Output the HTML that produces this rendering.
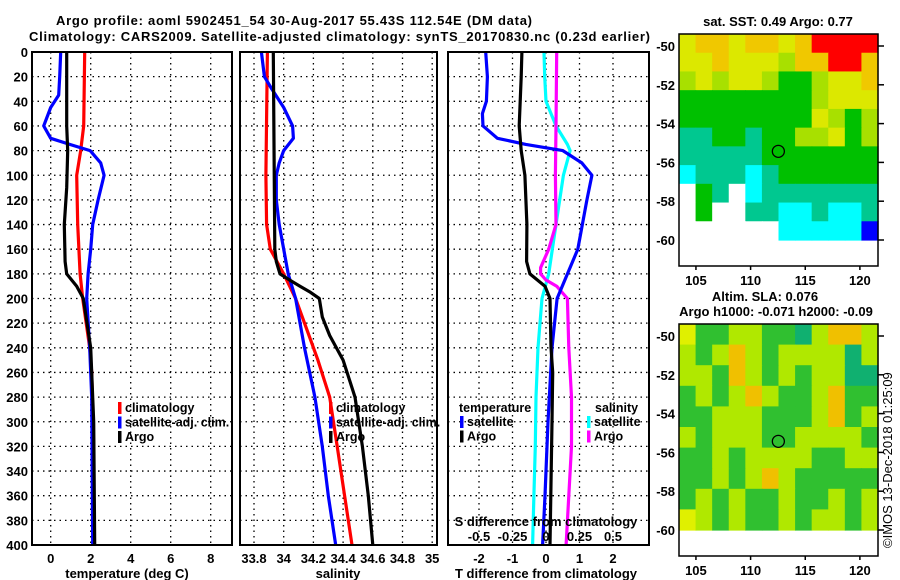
<!DOCTYPE html>
<html><head><meta charset="utf-8"><style>
html,body{margin:0;padding:0;background:#fff;}
svg{display:block;font-family:"Liberation Sans",Arial,sans-serif;}
.b{font-weight:bold;font-size:13px;}
</style></head><body>
<svg id="fig" width="900" height="580" viewBox="0 0 900 580" xmlns="http://www.w3.org/2000/svg">
<text class="b" x="56" y="25" textLength="476" font-size="14">Argo profile: aoml 5902451_54 30-Aug-2017 55.43S 112.54E (DM data)</text>
<text class="b" x="29" y="41" textLength="621" font-size="14">Climatology: CARS2009. Satellite-adjusted climatology: synTS_20170830.nc (0.23d earlier)</text>
<g id="g"></g>
</svg>
<script>
// ---- data ----
const depthTicks=[0,20,40,60,80,100,120,140,160,180,200,220,240,260,280,300,320,340,360,380,400];
const tTicks=[0,2,4,6,8];
const sTicks=[33.8,34,34.2,34.4,34.6,34.8,35];
const sTickLabels=["33.8","34","34.2","34.4","34.6","34.8","35"];
const dTTicks=[-2,-1,0,1,2];
const dSTickLabels=["-0.5","-0.25","0","0.25","0.5"];
const dSTicks=[-0.5,-0.25,0,0.25,0.5];

const argoTDepth=[0,60,80,110,140,170,180,190,200,240,300,400];
const argoT=[0.8,0.8,0.85,0.8,0.68,0.72,0.8,1.3,1.63,2.0,2.15,2.2];
const climTDepth=[0,60,80,100,140,180,200,240,260,320,400];
const climT=[1.7,1.65,1.5,1.3,1.35,1.47,1.6,1.95,2.05,2.15,2.15];
const satTDepth=[0,20,35,45,60,70,75,80,90,100,120,140,160,180,200,240,280,400];
const satT=[0.5,0.45,0.4,0,-0.35,0,0.95,1.97,2.5,2.67,2.37,2.1,2.0,1.87,1.8,1.95,2.05,2.1];

const argoSDepth=[0,160,170,180,185,190,195,200,215,230,250,280,320,360,400];
const argoS=[33.93,33.94,33.95,33.975,34.04,34.11,34.18,34.24,34.26,34.31,34.4,34.48,34.53,34.57,34.6];
const climSDepth=[0,100,140,160,180,200,220,250,280,320,360,400];
const climS=[33.89,33.88,33.885,33.91,34.0,34.08,34.14,34.23,34.31,34.36,34.41,34.46];
const satSDepth=[0,20,30,45,60,70,80,90,100,120,140,160,180,200,240,280,320,360,400];
const satS=[33.85,33.87,33.92,34.0,34.06,34.065,34.0,33.97,33.95,33.95,33.97,34.0,34.03,34.08,34.14,34.21,34.26,34.3,34.35];

const dTsatDepth=[0,20,40,50,60,70,75,80,90,100,120,160,200,240,300,360,400];
const dTsat=[-1.8,-1.75,-1.78,-1.9,-1.88,-1.45,-0.6,0.5,1.07,1.37,1.22,0.95,0.33,0.18,0.06,-0.03,-0.1];
const dTargoDepth=[0,20,60,80,100,140,170,180,190,200,240,260,300,400];
const dTargo=[-0.72,-0.74,-0.8,-0.74,-0.63,-0.57,-0.58,-0.48,-0.03,0.12,0.15,0.2,0.18,0.12];
const dSsatDepth=[0,20,40,60,75,80,100,140,180,200,240,280,320,360,400];
const dSsat=[-0.015,-0.01,0,0.075,0.16,0.18,0.13,0.075,0.02,-0.03,-0.06,-0.075,-0.08,-0.09,-0.1];
const dSargoDepth=[0,60,100,140,160,175,180,185,190,200,240,280,320,360,400];
const dSargo=[0.08,0.075,0.07,0.075,0.02,-0.04,-0.04,0.0,0.08,0.16,0.17,0.19,0.19,0.17,0.15];

const mapLonTicks=[105,110,115,120];
const mapLatTicks=[-50,-52,-54,-56,-58,-60];
const sstGrid=["YOOYOOYORRRR","YYOYYYLOORRO","LYLYYLGGLYYO","GGGGGGGGLYYY","GGGGGGGGYLGL","TTGGTGGLLYGL","TTTTTGGGGGGG","CTTTCTGGGGGG","WGTWCTTTTTTT","WGWWTTCCTCCT","WWWWWWCCCCCB"];
const slaGrid=["YGGLLGGDLOOL","LGLOLGLLLLDL","LLGOLGLGLLDD","GLGLOLGGLOGG","GGLLLGGGLOGL","LGLLLGGLLLLG","GGLGLLLLGGLL","GGLGLOLGGGGG","GLGLGGLGGLGL","YLGLGGLGLLGL"];
const profLon=112.54, profLat=-55.43;

// ---- helpers ----
const NS="http://www.w3.org/2000/svg";
const G=document.getElementById('g');
function mk(tag,attrs,parent){const e=document.createElementNS(NS,tag);for(const k in attrs)e.setAttribute(k,attrs[k]);(parent||G).appendChild(e);return e;}
const yD=d=>52+d*(493/400);
const xT=t=>50.7+20*t;
const xS=s=>254+148.5*(s-33.8);
const xDT=t=>546+33.5*t;
const xDS=s=>546+134*s;

function panel(name,x0,x1){
  const r=mk('rect',{x:x0,y:52,width:x1-x0,height:493,fill:'#fff',stroke:'none'});
  
  
  depthTicks.forEach(d=>{
    const l=mk('line',{x1:x0,x2:x1,y1:yD(d),y2:yD(d),stroke:'#000','stroke-width':1.3,'stroke-dasharray':'1.5,4'});
    
    
  });
}
function vgrid(x,name){
  const l=mk('line',{x1:x,x2:x,y1:52,y2:545,stroke:'#000','stroke-width':1.3,'stroke-dasharray':'1.5,4'});
  
  
}
function frame(name,x0,x1){
  const r=mk('rect',{x:x0,y:52,width:x1-x0,height:493,fill:'none',stroke:'#000','stroke-width':2});
  
  
}
function series(name,ds,vs,xf,color){
  const pts=ds.map((d,i)=>xf(vs[i]).toFixed(1)+','+yD(d).toFixed(1)).join(' ');
  const p=mk('polyline',{points:pts,fill:'none',stroke:color,'stroke-width':3.2,'stroke-linejoin':'round'});
  
  
}
function txt(s,x,y,name,opts){
  const t=mk('text',Object.assign({x:x,y:y,'font-size':13,'font-weight':'bold'},opts||{}));
  t.textContent=s;
  
  
  return t;
}
function legend(items,x,y0,name){
  items.forEach((it,i)=>{
    const y=y0+i*14.5;
    const r=mk('rect',{x:x,y:y-10,width:3.5,height:12,fill:it[1]});
    
    
    txt(it[0],x+7,y,name+'-label',{'font-size':12.5});
  });
}

// panel 1
panel('temperature-panel',32,232);
tTicks.forEach(t=>vgrid(xT(t),'t-gridline'));
series('climatology-temperature-line',climTDepth,climT,xT,'#ff0000');
series('satellite-adj-temperature-line',satTDepth,satT,xT,'#0000ff');
series('argo-temperature-line',argoTDepth,argoT,xT,'#000000');
frame('temperature-panel',32,232);
depthTicks.forEach(d=>txt(String(d),28,yD(d)+5,'depth-tick-label',{'text-anchor':'end'}));
tTicks.forEach(t=>txt(String(t),xT(t),563,'temperature-tick-label',{'text-anchor':'middle'}));
txt('temperature (deg C)',127,578,'temperature-axis-title',{'text-anchor':'middle'});
legend([['climatology','#ff0000'],['satellite-adj. clim.','#0000ff'],['Argo','#000000']],118,412,'temp-legend');

// panel 2
panel('salinity-panel',240,437);
sTicks.forEach(s=>vgrid(xS(s),'s-gridline'));
series('climatology-salinity-line',climSDepth,climS,xS,'#ff0000');
series('satellite-adj-salinity-line',satSDepth,satS,xS,'#0000ff');
series('argo-salinity-line',argoSDepth,argoS,xS,'#000000');
frame('salinity-panel',240,437);
sTicks.forEach((s,i)=>txt(sTickLabels[i],xS(s),563,'salinity-tick-label',{'text-anchor':'middle'}));
txt('salinity',338,578,'salinity-axis-title',{'text-anchor':'middle'});
legend([['climatology','#ff0000'],['satellite-adj. clim.','#0000ff'],['Argo','#000000']],329,412,'sal-legend');

// panel 3
panel('difference-panel',448,649);
dTTicks.forEach(t=>vgrid(xDT(t),'dt-gridline'));
series('salinity-satellite-diff-line',dSsatDepth,dSsat,xDS,'#00ffff');
series('salinity-argo-diff-line',dSargoDepth,dSargo,xDS,'#ff00ff');
series('temperature-satellite-diff-line',dTsatDepth,dTsat,xDT,'#0000ff');
series('temperature-argo-diff-line',dTargoDepth,dTargo,xDT,'#000000');
frame('difference-panel',448,649);
dTTicks.forEach(t=>txt(String(t),xDT(t),563,'dt-tick-label',{'text-anchor':'middle'}));
txt('T difference from climatology',546,578,'dt-axis-title',{'text-anchor':'middle'});
txt('S difference from climatology',546,526,'ds-axis-title',{'text-anchor':'middle'});
dSTicks.forEach((s,i)=>txt(dSTickLabels[i],xDS(s),541,'ds-tick-label',{'text-anchor':'middle'}));
txt('temperature',459,412,'diff-legend-temperature-heading',{'font-size':12.5});
legend([['satellite','#0000ff'],['Argo','#000000']],460,426,'diff-temp-legend');
txt('salinity',595,412,'diff-legend-salinity-heading',{'font-size':12.5});
legend([['satellite','#00ffff'],['Argo','#ff00ff']],587,426,'diff-sal-legend');

// maps
const colors={R:'#ff0000',O:'#f0c800',Y:'#dce800',L:'#a8e000',G:'#00c000',D:'#10b060',T:'#00c890',C:'#00ffff',B:'#0000ff',W:'#ffffff'};
const slaColors={Y:'#e0f000',L:'#b0e800',G:'#30c030',D:'#10b070',O:'#f0c000'};
const mx=lon=>679+(lon-103.45)*10.93;
function map(name,top,grid,cmap){
  const bottom=top+232;
  const yL=lat=>top+12+(-50-lat)*19.4;
  const dataTop=top, dataBot=yL(-60);
  const rows=grid.length, cols=grid[0].length;
  const rh=(dataBot-dataTop)/rows, cw=(878-679)/cols;
  const bg=mk('rect',{x:679,y:top,width:199,height:232,fill:'#fff'});
  
  
  grid.forEach((row,r)=>{
    for(let c=0;c<cols;c++){
      const cell=mk('rect',{x:(679+c*cw).toFixed(2),y:(dataTop+r*rh).toFixed(2),width:(cw+0.6).toFixed(2),height:(rh+0.6).toFixed(2),fill:cmap[row[c]]});
      
      
    }
  });
  const fr=mk('rect',{x:679,y:top,width:199,height:232,fill:'none',stroke:'#000','stroke-width':1.5});
  
  
  mapLatTicks.forEach(lat=>{
    const y=yL(lat);
    const tk=mk('line',{x1:878,x2:884,y1:y,y2:y,stroke:'#000','stroke-width':1.5});
    
    
    txt(String(lat),675,y+5,name+'-lat-label',{'text-anchor':'end'});
  });
  mapLonTicks.forEach(lon=>{
    const tk=mk('line',{x1:mx(lon),x2:mx(lon),y1:bottom,y2:bottom+4,stroke:'#000','stroke-width':1.5});
    
    
    txt(String(lon),mx(lon),bottom+19,name+'-lon-label',{'text-anchor':'middle'});
  });
  const c=mk('circle',{cx:mx(profLon),cy:yL(profLat),r:6,fill:'none',stroke:'#000','stroke-width':1.3});
  
  
}
map('sst-map',34,sstGrid,colors);
txt('sat. SST: 0.49 Argo: 0.77',778,26,'sst-map-title',{'text-anchor':'middle'});
map('sla-map',324,slaGrid,slaColors);
txt('Altim. SLA: 0.076',765,301,'sla-map-title',{'text-anchor':'middle'});
txt('Argo h1000: -0.071 h2000: -0.09',776,316,'sla-map-subtitle',{'text-anchor':'middle'});
txt('©IMOS 13-Dec-2018 01:25:09',0,0,'imos-timestamp',{'font-weight':'normal','font-size':13,transform:'translate(892,548) rotate(-90)'});
</script>
</body></html>
